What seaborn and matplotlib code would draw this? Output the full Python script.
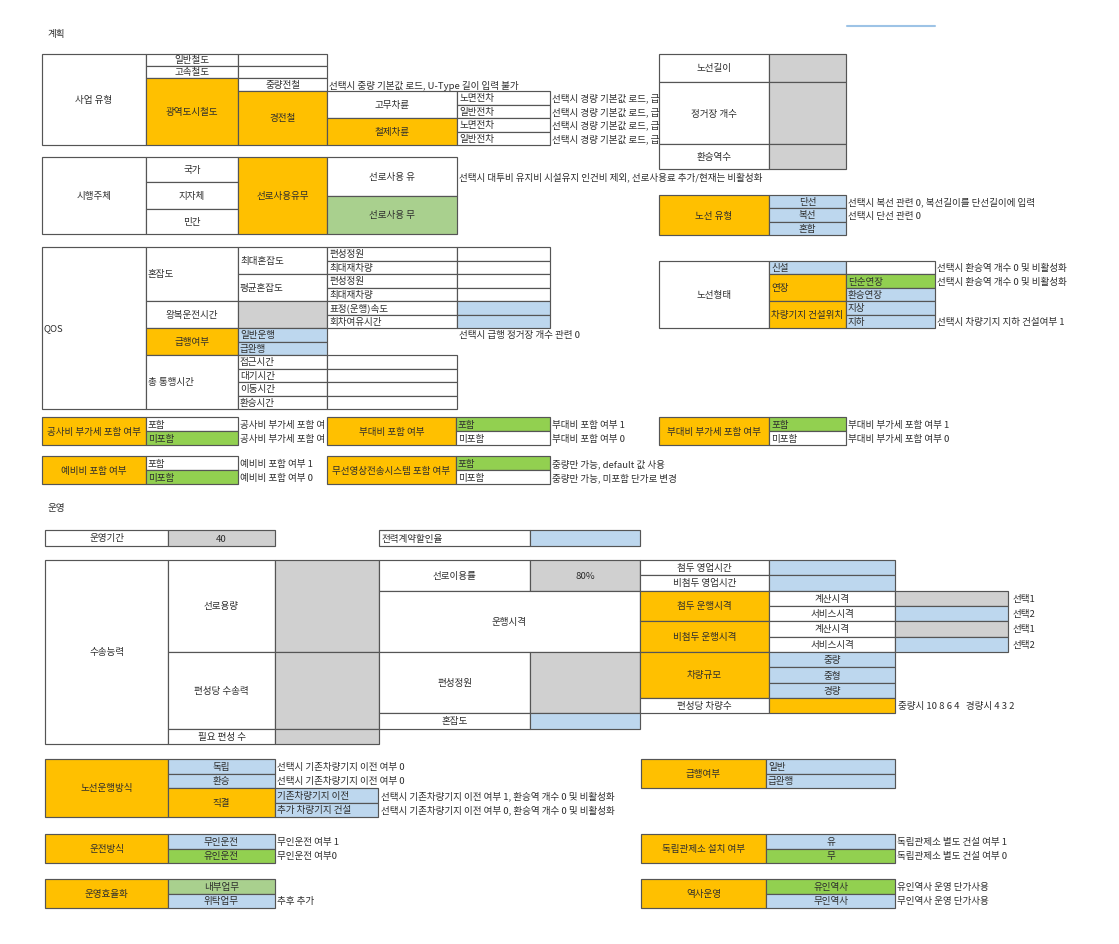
import matplotlib
matplotlib.use('Agg')
import matplotlib.pyplot as plt
from matplotlib.patches import Rectangle
import seaborn as sns

sns.set_style('white')
plt.rcParams['font.family'] = ['Noto Sans CJK KR', 'DejaVu Sans']

ORANGE = '#ffc000'
BLUE = '#bdd7ee'
GRAY = '#d0d0d0'
GREEN = '#92d050'
LGREEN = '#a9d08e'
TXT = '#2e2e2e'
FS = 6.9

# ---- 계획 ----
biz_rail = ['일반철도', '고속철도', '광역도시철도']
biz_sub = ['중량전철', '경전철']
biz_wheel = ['고무차륜', '철제차륜']
biz_car = ['노면전차', '일반전차', '노면전차', '일반전차']
biz_car_note = '선택시 경량 기본값 로드, 급'
line_info = ['노선길이', '정거장 개수', '환승역수']
agent = ['국가', '지자체', '민간']
track_use = ['선로사용 유', '선로사용 무']
line_type = ['단선', '복선', '혼합']
line_type_note = ['선택시 복선 관련 0, 복선길이를 단선길이에 입력', '선택시 단선 관련 0', '']
qos_lbl = ['편성정원', '최대재차량', '편성정원', '최대재차량', '표정(운행)속도', '회차여유시간']
qos_exp = ['일반운행', '급완행']
qos_time = ['접근시간', '대기시간', '이동시간', '환승시간']
shape_sub = ['신설', '연장', '차량기지 건설위치']
shape_leaf = ['단순연장', '환승연장', '지상', '지하']
shape_note = ['선택시 환승역 개수 0 및 비활성화', '선택시 환승역 개수 0 및 비활성화', '', '', '선택시 차량기지 지하 건설여부 1']
opt_title = ['공사비 부가세 포함 여부', '부대비 포함 여부', '부대비 부가세 포함 여부',
             '예비비 포함 여부', '무선영상전송시스템 포함 여부']
opt_choice = ['포함', '미포함']
opt_note = [['공사비 부가세 포함 여', '공사비 부가세 포함 여'],
            ['부대비 포함 여부 1', '부대비 포함 여부 0'],
            ['부대비 부가세 포함 여부 1', '부대비 부가세 포함 여부 0'],
            ['예비비 포함 여부 1', '예비비 포함 여부 0'],
            ['중량만 가능, default 값 사용', '중량만 가능, 미포함 단가로 변경']]
opt_green = [1, 0, 0, 1, 0]   # which choice row is green

# ---- 운영 ----
op_period = ['운영기간', '40']
power_rate = '전력계약할인율'
cap_left = ['선로용량', '편성당 수송력', '필요 편성 수']
cap_mid = ['선로이용률', '80%', '운행시격', '편성정원', '혼잡도']
cap_hours = ['첨두 영업시간', '비첨두 영업시간']
cap_head = ['첨두 운행시격', '비첨두 운행시격']
cap_head_sub = ['계산시격', '서비스시격']
cap_pick = ['선택1', '선택2', '선택1', '선택2']
cap_size = ['중량', '중형', '경량']
cap_cars = '편성당 차량수'
cap_cars_note = '중량시 10 8 6 4   경량시 4 3 2'
run_mode = ['독립', '환승', '직결']
run_direct = ['기존차량기지 이전', '추가 차량기지 건설']
run_note = ['선택시 기존차량기지 이전 여부 0', '선택시 기존차량기지 이전 여부 0',
            '선택시 기존차량기지 이전 여부 1, 환승역 개수 0 및 비활성화',
            '선택시 기존차량기지 이전 여부 0, 환승역 개수 0 및 비활성화']
exp_run = ['일반', '급완행']
drive = ['무인운전', '유인운전']
drive_note = ['무인운전 여부 1', '무인운전 여부0']
control = ['유', '무']
control_note = ['독립관제소 별도 건설 여부 1', '독립관제소 별도 건설 여부 0']
effic = ['내부업무', '위탁업무']
station = ['유인역사', '무인역사']
station_note = ['유인역사 운영 단가사용', '무인역사 운영 단가사용']

fig = plt.figure(figsize=(11.19, 9.45), dpi=100)
ax = fig.add_axes([0, 0, 1, 1])
ax.set_xlim(0, 1119)
ax.set_ylim(945, 0)
ax.axis('off')


def cell(x0, x1, y0, y1, fc='white', text='', ha='center', z=2):
    ax.add_patch(Rectangle((x0, y0), x1 - x0, y1 - y0, facecolor=fc,
                           edgecolor='#555555', lw=0.85, zorder=z))
    if text:
        tx = x0 + 2 if ha == 'left' else (x0 + x1) / 2
        ax.text(tx, (y0 + y1) / 2, text, ha=ha, va='center', fontsize=FS,
                color=TXT, zorder=z + 1)


def note(x, y, text, clip_x=None):
    t = ax.text(x, y, text, ha='left', va='center', fontsize=FS, color=TXT, zorder=1)
    if clip_x is not None:
        # cut the text where the next box starts, as in the sheet
        t.set_clip_path(Rectangle((0, 0), clip_x, 945, transform=ax.transData))
    return t


ax.text(47, 34, '계획', fontsize=FS, color=TXT, va='center')
ax.plot([847, 935], [27, 27], color='#9dc3e6', lw=1.5)

# 사업 유형
cell(42, 146, 55, 146, text='사업 유형')
cell(146, 238, 55, 67, text=biz_rail[0]); cell(238, 327, 55, 67)
cell(146, 238, 67, 79, text=biz_rail[1]); cell(238, 327, 67, 79)
cell(146, 238, 79, 146, ORANGE, biz_rail[2])
cell(238, 327, 79, 92, text=biz_sub[0])
cell(238, 327, 92, 146, ORANGE, biz_sub[1])
cell(327, 457, 92, 119, text=biz_wheel[0])
cell(327, 457, 119, 146, ORANGE, biz_wheel[1])
note(329, 86, '선택시 중량 기본값 로드, U-Type 길이 입력 불가')
for i, t in enumerate(biz_car):
    y0 = 92 + i * 13.5
    cell(457, 550, y0, y0 + 13.5, text=t, ha='left')
    note(552, y0 + 6.75, biz_car_note, clip_x=658)

# 노선 정보
for t, (y0, y1) in zip(line_info, [(55, 83), (83, 145), (145, 170)]):
    cell(659, 769, y0, y1, text=t, z=4)
    cell(769, 846, y0, y1, GRAY, z=4)

# 시행주체
cell(42, 146, 158, 235, text='시행주체')
for t, (y0, y1) in zip(agent, [(158, 183), (183, 209.5), (209.5, 235)]):
    cell(146, 238, y0, y1, text=t)
cell(238, 327, 158, 235, ORANGE, '선로사용유무')
cell(327, 457, 158, 196.5, text=track_use[0])
cell(327, 457, 196.5, 235, LGREEN, track_use[1])
note(459, 177, '선택시 대투비 유지비 시설유지 인건비 제외, 선로사용료 추가/현재는 비활성화')

# 노선 유형
cell(659, 769, 196, 236, ORANGE, '노선 유형')
for i, t in enumerate(line_type):
    y0 = 196 + i * 13.33
    cell(769, 846, y0, y0 + 13.33, BLUE, t)
    if line_type_note[i]:
        note(848, y0 + 6.7, line_type_note[i])

# QOS
qy = [248 + i * 13.5 for i in range(13)]
cell(42, 146, qy[0], qy[12], text='QOS', ha='left')
cell(146, 238, qy[0], qy[4], text='혼잡도', ha='left')
cell(146, 238, qy[4], qy[6], text='왕복운전시간')
cell(146, 238, qy[6], qy[8], ORANGE, '급행여부')
cell(146, 238, qy[8], qy[12], text='총 통행시간', ha='left')
cell(238, 327, qy[0], qy[2], text='최대혼잡도', ha='left')
cell(238, 327, qy[2], qy[4], text='평균혼잡도', ha='left')
cell(238, 327, qy[4], qy[6], GRAY)
for i, t in enumerate(qos_lbl):
    cell(327, 457, qy[i], qy[i + 1], text=t, ha='left')
    cell(457, 550, qy[i], qy[i + 1], BLUE if i >= 4 else 'white')
for i, t in enumerate(qos_exp):
    cell(238, 327, qy[6 + i], qy[7 + i], BLUE, t, ha='left')
for i, t in enumerate(qos_time):
    cell(238, 327, qy[8 + i], qy[9 + i], text=t, ha='left')
    cell(327, 457, qy[8 + i], qy[9 + i])
note(459, qy[6] + 6.75, '선택시 급행 정거장 개수 관련 0')

# 노선형태
sy = [262 + i * 13.4 for i in range(6)]
cell(659, 769, sy[0], sy[5], text='노선형태')
cell(769, 846, sy[0], sy[1], BLUE, shape_sub[0], ha='left')
cell(846, 935, sy[0], sy[1])
cell(769, 846, sy[1], sy[3], ORANGE, shape_sub[1], ha='left')
cell(769, 846, sy[3], sy[5], ORANGE, shape_sub[2], ha='left')
for i, t in enumerate(shape_leaf):
    cell(846, 935, sy[1 + i], sy[2 + i], GREEN if i == 0 else BLUE, t, ha='left')
for i, t in enumerate(shape_note):
    if t:
        note(937, sy[i] + 6.7, t)

# 포함 여부 옵션
groups = [(42, 146, 238, 418), (327, 456, 550, 418), (659, 769, 846, 418),
          (42, 146, 238, 457), (327, 456, 550, 457)]
for k, (xa, xb, xc, y0) in enumerate(groups):
    cell(xa, xb, y0, y0 + 28, ORANGE, opt_title[k], z=3)
    for j, t in enumerate(opt_choice):
        cell(xb, xc, y0 + j * 14, y0 + (j + 1) * 14,
             GREEN if j == opt_green[k] else 'white', t, ha='left', z=3)
        note(xc + 2, y0 + j * 14 + 7, opt_note[k][j], clip_x=326 if k == 0 else None)

# ---- 운영 ----
ax.text(47, 508, '운영', fontsize=FS, color=TXT, va='center')
cell(45, 168, 531, 547, text=op_period[0])
cell(168, 275, 531, 547, GRAY, op_period[1])
cell(379, 530, 531, 547, text=power_rate, ha='left')
cell(530, 640, 531, 547, BLUE)

ry = [561 + i * 15.33 for i in range(13)]
cell(45, 168, ry[0], ry[12], text='수송능력')
cell(168, 275, ry[0], ry[6], text=cap_left[0])
cell(275, 379, ry[0], ry[6], GRAY)
cell(168, 275, ry[6], ry[11], text=cap_left[1])
cell(275, 379, ry[6], ry[11], GRAY)
cell(168, 275, ry[11], ry[12], text=cap_left[2])
cell(275, 379, ry[11], ry[12], GRAY)
cell(379, 530, ry[0], ry[2], text=cap_mid[0])
cell(530, 640, ry[0], ry[2], GRAY, cap_mid[1])
cell(379, 640, ry[2], ry[6], text=cap_mid[2])
cell(379, 530, ry[6], ry[10], text=cap_mid[3])
cell(530, 640, ry[6], ry[10], GRAY)
cell(379, 530, ry[10], ry[11], text=cap_mid[4])
cell(530, 640, ry[10], ry[11], BLUE)
for i, t in enumerate(cap_hours):
    cell(640, 769, ry[i], ry[i + 1], text=t)
    cell(769, 895, ry[i], ry[i + 1], BLUE)
for k, t in enumerate(cap_head):
    cell(640, 769, ry[2 + 2 * k], ry[4 + 2 * k], ORANGE, t)
    for j, s in enumerate(cap_head_sub):
        r = 2 + 2 * k + j
        cell(769, 895, ry[r], ry[r + 1], text=s)
        cell(895, 1008, ry[r], ry[r + 1], GRAY if j == 0 else BLUE)
for i, t in enumerate(cap_pick):
    note(1013, ry[2 + i] + 7.6, t)
cell(640, 769, ry[6], ry[9], ORANGE, '차량규모')
for i, t in enumerate(cap_size):
    cell(769, 895, ry[6 + i], ry[7 + i], BLUE, t)
cell(640, 769, ry[9], ry[10], text=cap_cars)
cell(769, 895, ry[9], ry[10], ORANGE)
note(898, ry[9] + 7.6, cap_cars_note)

# 노선운행방식
by = [760 + i * 14.5 for i in range(5)]
cell(45, 168, by[0], by[4], ORANGE, '노선운행방식')
cell(168, 275, by[0], by[1], BLUE, run_mode[0])
cell(168, 275, by[1], by[2], BLUE, run_mode[1])
cell(168, 275, by[2], by[4], ORANGE, run_mode[2])
for j, t in enumerate(run_direct):
    cell(275, 378, by[2 + j], by[3 + j], BLUE, t, ha='left')
for i, t in enumerate(run_note):
    note(277 if i < 2 else 381, by[i] + 7.25, t)

cell(641, 766, by[0], by[2], ORANGE, '급행여부')
for i, t in enumerate(exp_run):
    cell(766, 895, by[i], by[i + 1], BLUE, t, ha='left')

# 운전방식 / 독립관제소
dy = [835, 849.5, 864]
cell(45, 168, dy[0], dy[2], ORANGE, '운전방식')
cell(641, 766, dy[0], dy[2], ORANGE, '독립관제소 설치 여부')
for i in range(2):
    cell(168, 275, dy[i], dy[i + 1], BLUE if i == 0 else GREEN, drive[i])
    note(277, dy[i] + 7.25, drive_note[i])
    cell(766, 895, dy[i], dy[i + 1], BLUE if i == 0 else GREEN, control[i])
    note(897, dy[i] + 7.25, control_note[i])

# 운영효율화 / 역사운영
ey = [880, 894.5, 909]
cell(45, 168, ey[0], ey[2], ORANGE, '운영효율화')
cell(641, 766, ey[0], ey[2], ORANGE, '역사운영')
for i in range(2):
    cell(168, 275, ey[i], ey[i + 1], LGREEN if i == 0 else BLUE, effic[i])
    cell(766, 895, ey[i], ey[i + 1], GREEN if i == 0 else BLUE, station[i])
    note(897, ey[i] + 7.25, station_note[i])
note(277, ey[1] + 7.25, '추후 추가')

fig.savefig('out.png', dpi=100)
